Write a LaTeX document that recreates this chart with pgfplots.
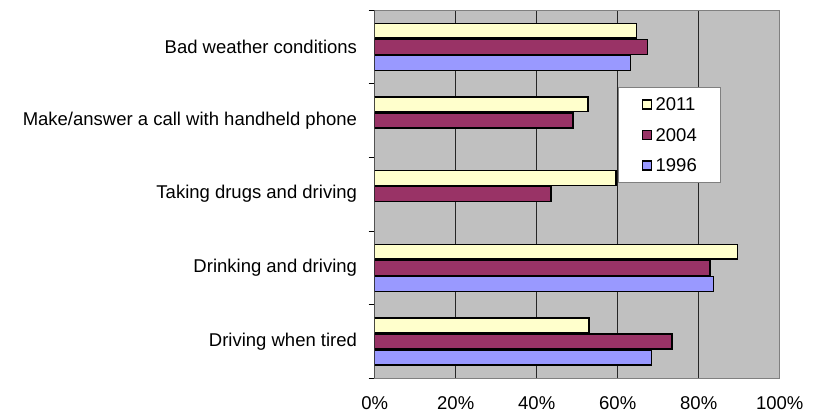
\documentclass[border=0pt]{standalone}
\usepackage{pgfplots}
\pgfplotsset{compat=1.18}
\usepackage{fontspec}
\setmainfont{Liberation Sans}
\definecolor{bgray}{HTML}{C0C0C0}
\definecolor{c2011}{HTML}{FFFFCC}
\definecolor{c2004}{HTML}{993366}
\definecolor{c1996}{HTML}{9999FF}
\definecolor{frame}{HTML}{808080}
\begin{document}
\begin{tikzpicture}
\useasboundingbox (-374.7bp,-34.7bp) rectangle (453.3bp,378.3bp);
\begin{axis}[
  at={(0,0)}, anchor=south west,
  scale only axis, width=405bp, height=368.3bp,
  xbar, bar width=14.8bp,
  xmin=0, xmax=100, ymin=-0.5, ymax=4.5,
  xtick={0,20,40,60,80,100},
  xticklabels={0\%,20\%,40\%,60\%,80\%,100\%},
  ytick={0,1,2,3,4},
  yticklabels={Driving when tired,Drinking and driving,Taking drugs and driving,Make/answer a call with handheld phone,Bad weather conditions},
  minor ytick={-0.5,0.5,1.5,2.5,3.5,4.5},
  major tick length=0pt, minor tick length=6bp,
  tick align=outside, tick pos=left,
  minor tick style={black, line width=0.9bp},
  xmajorgrids, major grid style={black!85, line width=0.9bp},
  axis line style={frame, line width=0.9bp},
  axis background/.style={fill=bgray},
  /pgf/number format/assume math mode=true,
  every tick label/.append style={font=\fontsize{18.5bp}{22bp}\selectfont},
  yticklabel style={inner sep=0pt, xshift=-17.5bp},
  xticklabel style={inner sep=0pt, anchor=base, yshift=-31bp},
  legend style={at={(0.6,0.7917)}, anchor=north west, draw=frame, fill=white,
    line width=0.9bp,
    font=\fontsize{18.5bp}{22bp}\selectfont,
    inner xsep=24bp, inner ysep=10.8bp,
    row sep=17.5bp, column sep=3.3bp,
    nodes={inner sep=0pt, text height=13bp, text depth=0pt}},
  legend cell align=left,
  legend image code/.code={\draw[#1, draw=black, line width=1.2bp] (0bp,-4.5bp) rectangle (9bp,4.5bp);},
  every axis plot/.append style={draw=black, line width=1.3bp},
]
\addplot[fill=c2011, bar shift=16.1bp] coordinates {(64.7,4) (52.7,3) (59.6,2) (89.5,1) (52.9,0)};
\addplot[fill=c2004, bar shift=0bp] coordinates {(67.3,4) (49.0,3) (43.5,2) (82.8,1) (73.4,0)};
\addplot[fill=c1996, bar shift=-16.1bp] coordinates {(63.2,4) (83.6,1) (68.3,0)};
\legend{2011,2004,1996}
\draw[black, line width=1.2bp] (rel axis cs:0,0) -- (rel axis cs:0,1);
\end{axis}
\end{tikzpicture}
\end{document}
